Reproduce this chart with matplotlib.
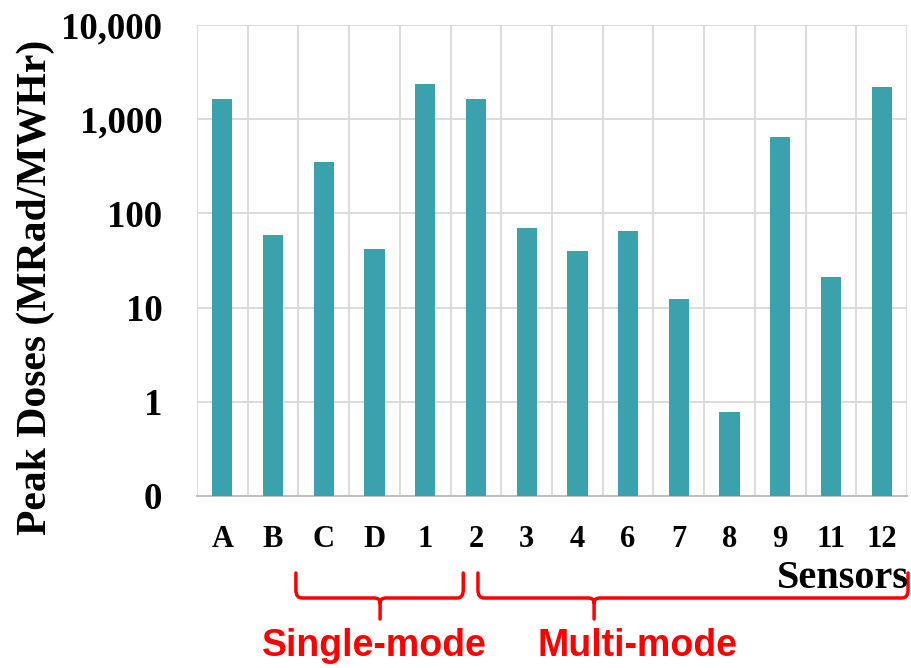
import matplotlib
matplotlib.use("Agg")
import matplotlib.pyplot as plt
import numpy as np
from matplotlib.path import Path
from matplotlib.patches import PathPatch
import matplotlib.transforms as mtransforms

sensors = ["A", "B", "C", "D", "1", "2", "3", "4", "6", "7", "8", "9", "11", "12"]
peak_doses = [1640, 59, 351, 42, 2345, 1625, 70, 40, 64.5, 12.2, 0.77, 643, 21.3, 2213]
ytick_values = [0.1, 1, 10, 100, 1000, 10000]
ytick_labels = ["0", "1", "10", "100", "1,000", "10,000"]
group_names = ["Single-mode", "Multi-mode"]

W, H = 912, 668
fig = plt.figure(figsize=(W / 100, H / 100), dpi=100)
ax = fig.add_axes([197 / W, 1 - 496 / H, (907 - 197) / W, (496 - 25) / H])

x = np.arange(len(sensors))
ax.bar(x, peak_doses, width=0.4, color="#3BA1AD", zorder=3)
ax.set_yscale("log")
ax.set_ylim(0.1, 10000)
ax.set_xlim(-0.5, len(sensors) - 0.5)

ax.set_yticks(ytick_values)
ax.set_yticklabels(ytick_labels)
ax.yaxis.set_minor_locator(matplotlib.ticker.NullLocator())
ax.set_xticks(x)
ax.set_xticklabels(sensors)
ax.set_xticks(np.arange(-0.5, len(sensors)), minor=True)

ax.grid(True, which="major", axis="y", color="#d9d9d9", lw=1.3, zorder=0)
ax.grid(True, which="minor", axis="x", color="#d9d9d9", lw=1.3, zorder=0)
ax.tick_params(which="both", length=0)
ax.tick_params(axis="y", pad=25)
ax.tick_params(axis="x", pad=21)
for s in ["top", "right", "left"]:
    ax.spines[s].set_visible(False)
ax.spines["bottom"].set_color("#bfbfbf")
ax.spines["bottom"].set_linewidth(1.5)

for lab in ax.get_yticklabels():
    lab.set_fontfamily("Liberation Serif")
    lab.set_fontweight("bold")
    lab.set_fontsize(26.5)
for lab in ax.get_xticklabels():
    lab.set_fontfamily("Liberation Serif")
    lab.set_fontweight("bold")
    lab.set_fontsize(22)

fig.text(36 / W, 1 - 287 / H, "Peak Doses (MRad/MWHr)", rotation=90,
         ha="center", va="center", fontfamily="Liberation Serif",
         fontweight="bold", fontsize=30)
fig.text(909 / W, 1 - 578 / H, "Sensors", ha="right", va="center",
         fontfamily="Liberation Serif", fontweight="bold", fontsize=29)

# braces: x in data coords (category units), y in figure pixel coords
trans = mtransforms.blended_transform_factory(ax.transData, fig.transFigure)
def fy(py):
    return 1 - py / H

# (left, tip, right, label centre) in category units
brace_spans = [(1.45, 3.11, 4.75, 2.99), (5.04, 7.33, 13.52, 8.18)]

for name, (x0, xm, x1, xt) in zip(group_names, brace_spans):
    r = 0.12
    ytop, ymid, ytip = fy(573), fy(598), fy(619)
    d = fy(590) - ymid
    verts = [(x0, ytop), (x0, ymid + d), (x0, ymid), (x0 + r, ymid),
             (xm - r, ymid), (xm, ymid), (xm, ymid - d * 0.6), (xm, ytip),
             (xm, ymid - d * 0.6), (xm, ymid), (xm + r, ymid),
             (x1 - r, ymid), (x1, ymid), (x1, ymid + d), (x1, ytop)]
    codes = [Path.MOVETO, Path.LINETO, Path.CURVE3, Path.CURVE3,
             Path.LINETO, Path.CURVE3, Path.CURVE3, Path.LINETO,
             Path.MOVETO, Path.CURVE3, Path.CURVE3,
             Path.LINETO, Path.CURVE3, Path.CURVE3, Path.LINETO]
    patch = PathPatch(Path(verts, codes), transform=trans, fill=False,
                      edgecolor="red", lw=2.5, clip_on=False, capstyle="round")
    fig.add_artist(patch)
    fig.text(xt, fy(646), name, transform=trans, color="red",
             ha="center", va="center", fontfamily="Liberation Sans",
             fontweight="bold", fontsize=27)

fig.savefig("out.png", dpi=100)
